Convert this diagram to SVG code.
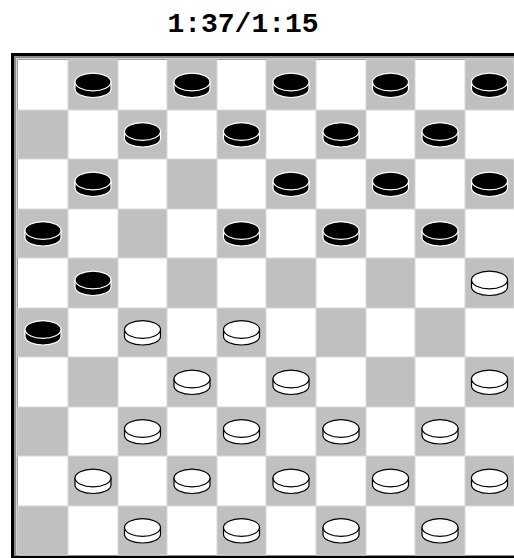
<svg xmlns="http://www.w3.org/2000/svg" xmlns:xlink="http://www.w3.org/1999/xlink" width="514" height="558" viewBox="0 0 514 558">
<style>
.title{font-family:"Liberation Mono","Courier New",monospace;font-weight:bold;font-size:28px;fill:#000}
.d{fill:#c0c0c0;stroke:#d8d8d8;stroke-width:1}
.bk{fill:#000;stroke:#fff;stroke-width:1.2}
.wh{fill:#fff;stroke:#000;stroke-width:1.2}
</style>
<defs>
<g id="bp">
<path class="bk" d="M-18,0 v7 a18,8.5 0 0 0 36,0 v-7 z"/>
<ellipse class="bk" cx="0" cy="0" rx="18" ry="8.8"/>
</g>
<g id="wp">
<path class="wh" d="M-18,0 v7 a18,8.5 0 0 0 36,0 v-7 z"/>
<ellipse class="wh" cx="0" cy="0" rx="18" ry="8.8"/>
</g>
</defs>
<rect width="514" height="558" fill="#fff"/>
<text class="title" x="243" y="32" text-anchor="middle">1:37/1:15</text>
<g id="frame">
<rect x="11" y="53" width="520" height="520" fill="#000"/>
<rect x="14" y="56" width="520" height="500" fill="#8c8c8c"/>
<rect x="16" y="58" width="520" height="497" fill="#d4d4d4"/>
<rect x="17" y="59" width="520" height="496" fill="#a0a0a0"/>
<rect x="18" y="60" width="496" height="495" fill="#fff"/>
</g>
<g id="squares">
<rect class="d" x="68" y="60" width="50" height="50"/><rect class="d" x="167" y="60" width="50" height="50"/><rect class="d" x="266" y="60" width="50" height="50"/><rect class="d" x="366" y="60" width="49" height="50"/><rect class="d" x="465" y="60" width="49" height="50"/>
<rect class="d" x="18" y="110" width="50" height="49"/><rect class="d" x="118" y="110" width="49" height="49"/><rect class="d" x="217" y="110" width="49" height="49"/><rect class="d" x="316" y="110" width="50" height="49"/><rect class="d" x="415" y="110" width="50" height="49"/>
<rect class="d" x="68" y="159" width="50" height="50"/><rect class="d" x="167" y="159" width="50" height="50"/><rect class="d" x="266" y="159" width="50" height="50"/><rect class="d" x="366" y="159" width="49" height="50"/><rect class="d" x="465" y="159" width="49" height="50"/>
<rect class="d" x="18" y="209" width="50" height="49"/><rect class="d" x="118" y="209" width="49" height="49"/><rect class="d" x="217" y="209" width="49" height="49"/><rect class="d" x="316" y="209" width="50" height="49"/><rect class="d" x="415" y="209" width="50" height="49"/>
<rect class="d" x="68" y="258" width="50" height="50"/><rect class="d" x="167" y="258" width="50" height="50"/><rect class="d" x="266" y="258" width="50" height="50"/><rect class="d" x="366" y="258" width="49" height="50"/><rect class="d" x="465" y="258" width="49" height="50"/>
<rect class="d" x="18" y="308" width="50" height="49"/><rect class="d" x="118" y="308" width="49" height="49"/><rect class="d" x="217" y="308" width="49" height="49"/><rect class="d" x="316" y="308" width="50" height="49"/><rect class="d" x="415" y="308" width="50" height="49"/>
<rect class="d" x="68" y="357" width="50" height="50"/><rect class="d" x="167" y="357" width="50" height="50"/><rect class="d" x="266" y="357" width="50" height="50"/><rect class="d" x="366" y="357" width="49" height="50"/><rect class="d" x="465" y="357" width="49" height="50"/>
<rect class="d" x="18" y="407" width="50" height="49"/><rect class="d" x="118" y="407" width="49" height="49"/><rect class="d" x="217" y="407" width="49" height="49"/><rect class="d" x="316" y="407" width="50" height="49"/><rect class="d" x="415" y="407" width="50" height="49"/>
<rect class="d" x="68" y="456" width="50" height="50"/><rect class="d" x="167" y="456" width="50" height="50"/><rect class="d" x="266" y="456" width="50" height="50"/><rect class="d" x="366" y="456" width="49" height="50"/><rect class="d" x="465" y="456" width="49" height="50"/>
<rect class="d" x="18" y="506" width="50" height="49"/><rect class="d" x="118" y="506" width="49" height="49"/><rect class="d" x="217" y="506" width="49" height="49"/><rect class="d" x="316" y="506" width="50" height="49"/><rect class="d" x="415" y="506" width="50" height="49"/>
</g>
<g id="black-pieces">
<use xlink:href="#bp" x="93" y="82"/><use xlink:href="#bp" x="192" y="82"/><use xlink:href="#bp" x="291" y="82"/><use xlink:href="#bp" x="390.5" y="82"/><use xlink:href="#bp" x="489.5" y="82"/>
<use xlink:href="#bp" x="142.5" y="131.5"/><use xlink:href="#bp" x="241.5" y="131.5"/><use xlink:href="#bp" x="341" y="131.5"/><use xlink:href="#bp" x="440" y="131.5"/>
<use xlink:href="#bp" x="93" y="181"/><use xlink:href="#bp" x="291" y="181"/><use xlink:href="#bp" x="390.5" y="181"/><use xlink:href="#bp" x="489.5" y="181"/>
<use xlink:href="#bp" x="43" y="230.5"/><use xlink:href="#bp" x="241.5" y="230.5"/><use xlink:href="#bp" x="341" y="230.5"/><use xlink:href="#bp" x="440" y="230.5"/>
<use xlink:href="#bp" x="93" y="280"/>
<use xlink:href="#bp" x="43" y="329.5"/>
</g>
<g id="white-pieces">
<use xlink:href="#wp" x="489.5" y="280"/>
<use xlink:href="#wp" x="142.5" y="329.5"/><use xlink:href="#wp" x="241.5" y="329.5"/>
<use xlink:href="#wp" x="192" y="379"/><use xlink:href="#wp" x="291" y="379"/><use xlink:href="#wp" x="489.5" y="379"/>
<use xlink:href="#wp" x="142.5" y="428.5"/><use xlink:href="#wp" x="241.5" y="428.5"/><use xlink:href="#wp" x="341" y="428.5"/><use xlink:href="#wp" x="440" y="428.5"/>
<use xlink:href="#wp" x="93" y="478"/><use xlink:href="#wp" x="192" y="478"/><use xlink:href="#wp" x="291" y="478"/><use xlink:href="#wp" x="390.5" y="478"/><use xlink:href="#wp" x="489.5" y="478"/>
<use xlink:href="#wp" x="142.5" y="527.5"/><use xlink:href="#wp" x="241.5" y="527.5"/><use xlink:href="#wp" x="341" y="527.5"/><use xlink:href="#wp" x="440" y="527.5"/>
</g>
</svg>
